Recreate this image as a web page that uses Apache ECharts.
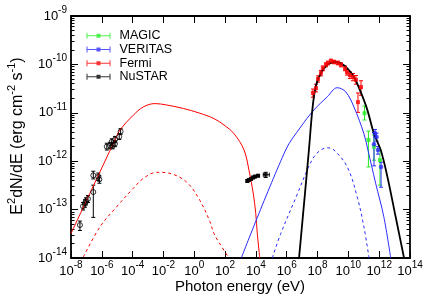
<!DOCTYPE html>
<html><head><meta charset="utf-8">
<script src="https://cdn.jsdelivr.net/npm/echarts@6/dist/echarts.min.js"></script>
<style>html,body{margin:0;padding:0;background:#fff}#c{width:428px;height:300px}</style>
</head><body><div id="c"></div>
<script>
// ---------- data (E in eV, E^2 dN/dE in erg cm^-2 s^-1) ----------
const fermiE  = [5.0e7, 7.9e7, 1.07e8, 1.66e8, 2.2e8, 3.5e8, 4.8e8, 7.4e8, 1.17e9, 2.1e9, 3.3e9, 6.0e9, 8.1e9, 1.26e10, 2.0e10, 3.1e10, 4.2e10, 6.6e10];
const fermiF  = [2.57e-11, 3.24e-11, 5.0e-11, 6.6e-11, 8.3e-11, 9.8e-11, 1.07e-10, 1.17e-10, 1.12e-10, 1.07e-10, 9.8e-11, 8.3e-11, 6.9e-11, 6.0e-11, 5.5e-11, 4.8e-11, 1.66e-11, 3.4e-11];
const fermiLo = [2.1e-11, 2.7e-11, 4.3e-11, 5.8e-11, 7.4e-11, 8.9e-11, 9.8e-11, 1.07e-10, 1.03e-10, 9.8e-11, 8.9e-11, 7.4e-11, 6.0e-11, 5.1e-11, 4.6e-11, 3.9e-11, 1.02e-11, 2.3e-11];
const fermiHi = [3.1e-11, 3.9e-11, 5.8e-11, 7.5e-11, 9.3e-11, 1.08e-10, 1.17e-10, 1.28e-10, 1.22e-10, 1.17e-10, 1.08e-10, 9.3e-11, 7.9e-11, 7.0e-11, 6.5e-11, 5.9e-11, 2.57e-11, 4.6e-11];

const magicE  = [1.12e11, 2.0e11, 4.6e11, 1.12e12];
const magicF  = [9.8e-12, 2.75e-12, 2.0e-12, 1.05e-12];
const magicLo = [7.1e-12, 7.6e-13, 1.05e-12, 3.2e-13];
const magicHi = [1.38e-11, 4.2e-12, 3.5e-12, 1.7e-12];

const veritasE  = [5.4e11, 6.8e11, 4.6e11, 8.3e11, 1.32e12];
const veritasF  = [3.8e-12, 3.16e-12, 2.24e-12, 1.7e-12, 7.6e-13];
const veritasLo = [3.2e-12, 2.6e-12, 8.0e-13, 1.4e-12, 2.9e-13];
const veritasHi = [4.5e-12, 3.8e-12, 3.9e-12, 2.0e-12, 9.5e-13];

const nustarE   = [2.75e3, 3.5e3, 4.8e3, 6.5e3, 8.7e3, 1.38e4, 4.3e4];
const nustarF   = [3.9e-13, 4.1e-13, 4.3e-13, 4.6e-13, 4.8e-13, 5.0e-13, 5.25e-13];
const nustarLo  = [3.7e-13, 3.9e-13, 4.1e-13, 4.4e-13, 4.6e-13, 4.8e-13, 4.6e-13];
const nustarHi  = [4.1e-13, 4.3e-13, 4.5e-13, 4.8e-13, 5.0e-13, 5.2e-13, 5.9e-13];
const nustarElo = [2.5e3, 3.2e3, 4.3e3, 5.8e3, 7.7e3, 1.2e4, 3.0e4];
const nustarEhi = [3.0e3, 3.9e3, 5.4e3, 7.3e3, 9.8e3, 1.6e4, 7.4e4];

const optE  = [3.8e-8, 6.0e-8, 8.1e-8, 9.3e-8, 1.26e-7, 2.8e-7, 2.8e-7, 5.9e-7, 6.9e-7, 2.1e-6, 3.4e-6, 4.4e-6, 5.1e-6, 7.2e-6, 7.2e-6, 1.35e-5, 1.66e-5];
const optF  = [4.8e-14, 1.17e-13, 1.35e-13, 1.48e-13, 1.66e-13, 5.1e-13, 2.3e-13, 4.8e-13, 4.2e-13, 2.0e-12, 2.1e-12, 2.5e-12, 2.1e-12, 2.8e-12, 2.3e-12, 3.2e-12, 4.1e-12];
const optLo = [3.7e-14, 0.98e-13, 1.12e-13, 1.25e-13, 1.4e-13, 4.3e-13, 6.9e-14, 4.0e-13, 3.5e-13, 1.7e-12, 1.8e-12, 2.1e-12, 1.8e-12, 2.4e-12, 2.0e-12, 2.8e-12, 3.6e-12];
const optHi = [5.8e-14, 1.4e-13, 1.6e-13, 1.75e-13, 1.95e-13, 6.2e-13, 3.2e-13, 5.7e-13, 5.0e-13, 2.35e-12, 2.45e-12, 2.9e-12, 2.45e-12, 3.25e-12, 2.65e-12, 3.7e-12, 4.7e-12];

// model curves
const synE = [1e-8, 2.7e-7, 7.2e-6, 1.5e-5, 1.1e-4, 4.9e-4, 2.8e-3, 1.6e-2, 0.195, 2.3, 19, 85, 380, 1700, 3550, 6800, 9800, 1.23e4, 1.78e4];
const synF = [3.2e-14, 3.0e-13, 2.75e-12, 4.4e-12, 8.9e-12, 1.32e-11, 1.55e-11, 1.45e-11, 1.23e-11, 9.8e-12, 7.6e-12, 5.6e-12, 3.7e-12, 1.7e-12, 6.5e-13, 2.1e-13, 8.3e-14, 3.2e-14, 1.0e-14];
const syn2E = [6.3e-8, 7.6e-7, 9.3e-6, 1.1e-4, 4.9e-4, 3.6e-3, 2.6e-2, 0.32, 2.3, 10.5, 19, 40, 178];
const syn2F = [1.05e-14, 4.4e-14, 1.15e-13, 2.75e-13, 4.4e-13, 5.9e-13, 5.6e-13, 3.7e-13, 1.55e-13, 5.6e-14, 3.2e-14, 2.1e-14, 1.0e-14];
const icE  = [1.12e3, 8.5e5, 8.1e6, 5.9e7, 4.3e8, 1.9e9, 6.8e9, 2.3e10, 1.02e11, 1.86e11, 5.9e11, 2.0e12, 5.6e12];
const icF  = [1.0e-14, 1.7e-12, 5.1e-12, 1.15e-11, 2.14e-11, 3.3e-11, 2.7e-11, 1.32e-11, 3.7e-12, 1.7e-12, 3.5e-13, 7.1e-14, 1.0e-14];
const ic2E = [1.15e5, 4.1e5, 4.9e6, 2.1e7, 5.9e7, 1.6e8, 4.3e8, 1.17e9, 8.5e9, 3.8e10, 1.02e11, 2.2e11];
const ic2F = [1.0e-14, 3.2e-14, 2.1e-13, 6.5e-13, 1.23e-12, 1.7e-12, 1.9e-12, 1.7e-12, 7.6e-13, 1.8e-13, 4.4e-14, 1.0e-14];
const totE = [6.3e6, 2.75e7, 4.6e7, 7.6e7, 1.6e8, 4.3e8, 1.17e9, 3.2e9, 8.5e9, 2.3e10, 6.3e10, 1.7e11, 4.6e11, 1.26e12, 3.4e12, 1.17e13, 4.1e13];
const totF = [1.0e-14, 1.7e-12, 1.15e-11, 3.5e-11, 6.5e-11, 9.8e-11, 1.12e-10, 1.05e-10, 8.3e-11, 5.5e-11, 2.7e-11, 1.15e-11, 3.7e-12, 1.7e-12, 4.8e-13, 7.1e-14, 1.0e-14];

// axis ranges (decades)
const xMinExp = -8, xMaxExp = 14, xStep = 2;
const yMinExp = -14, yMaxExp = -9;

// ---------- build ----------
const L = Math.log10;
const pts = (E, F) => E.map((e, i) => [L(e), L(F[i])]);
const errRows = (E, F, lo, hi, elo, ehi) => E.map((e, i) => [L(e), L(F[i]), L(lo[i]), L(hi[i]),
  elo ? L(elo[i]) : L(e), ehi ? L(ehi[i]) : L(e)]);

const FONT = 'Liberation Sans, Arial, sans-serif';
const green = '#22ee22', blue = '#2a2aff', red = '#ff0000';

function errSeries(name, rows, color, cap) {
  return {
    type: 'custom', name, z: 3, clip: true,
    encode: { x: 0, y: 1 },
    data: rows,
    renderItem(params, api) {
      const x = api.value(0), st = { stroke: color, lineWidth: 1, fill: null };
      const ch = [];
      const a = api.coord([x, api.value(2)]), b = api.coord([x, api.value(3)]);
      ch.push({ type: 'line', shape: { x1: a[0], y1: a[1], x2: b[0], y2: b[1] }, style: st });
      ch.push({ type: 'line', shape: { x1: a[0] - cap, y1: a[1], x2: a[0] + cap, y2: a[1] }, style: st });
      ch.push({ type: 'line', shape: { x1: b[0] - cap, y1: b[1], x2: b[0] + cap, y2: b[1] }, style: st });
      const xl = api.value(4), xh = api.value(5);
      if (xl !== x || xh !== x) {
        const y = api.value(1);
        const c = api.coord([xl, y]), d = api.coord([xh, y]);
        ch.push({ type: 'line', shape: { x1: c[0], y1: c[1], x2: d[0], y2: d[1] }, style: st });
        ch.push({ type: 'line', shape: { x1: c[0], y1: c[1] - cap, x2: c[0], y2: c[1] + cap }, style: st });
        ch.push({ type: 'line', shape: { x1: d[0], y1: d[1] - cap, x2: d[0], y2: d[1] + cap }, style: st });
      }
      return { type: 'group', children: ch };
    }
  };
}

function curve(name, E, F, color, width, dashed) {
  return {
    type: 'line', name, data: pts(E, F), showSymbol: false, symbol: 'none',
    smooth: 0.35, z: 4, clip: true,
    lineStyle: { color, width, type: dashed ? [3, 3] : 'solid' }
  };
}

const minorY = [];
for (let n = yMinExp; n < yMaxExp; n++) for (let k = 2; k <= 9; k++) minorY.push(n + L(k));

const labRich = {
  b: { fontSize: 13, lineHeight: 22, fontFamily: FONT, color: '#000' },
  s: { fontSize: 10, lineHeight: 8, verticalAlign: 'top', fontFamily: FONT, color: '#000' }
};
const fmt = v => '{b|10}{s|' + v + '}';

const AXW = 1.8;
const baseX = { type: 'value', min: xMinExp, max: xMaxExp, interval: xStep, splitLine: { show: false },
  axisLine: { onZero: false, lineStyle: { color: '#000', width: AXW } } };
const baseY = { type: 'value', min: yMinExp, max: yMaxExp, interval: 1, splitLine: { show: false },
  axisLine: { onZero: false, lineStyle: { color: '#000', width: AXW } } };
const hiddenLine = { show: false, onZero: false };

const iconPath = 'path://M0,3.5L24,3.5L24,4.5L0,4.5Z M0,1L1,1L1,7L0,7Z M23,1L24,1L24,7L23,7Z M10,2L14,2L14,6L10,6Z';

const option = {
  animation: false,
  backgroundColor: '#fff',
  grid: { left: 71, right: 18, top: 16, bottom: 42 },
  xAxis: [
    Object.assign({}, baseX, { position: 'bottom',
      axisTick: { inside: true, length: 7, lineStyle: { color: '#000' } },
      axisLabel: { formatter: fmt, rich: labRich, margin: 2 } }),
    Object.assign({}, baseX, { position: 'top',
      axisTick: { inside: true, length: 7, lineStyle: { color: '#000' } },
      axisLabel: { show: false } })
  ],
  yAxis: [
    Object.assign({}, baseY, { position: 'left',
      axisTick: { inside: true, length: 7, lineStyle: { color: '#000' } },
      axisLabel: { formatter: fmt, rich: labRich, margin: 4 } }),
    Object.assign({}, baseY, { position: 'left', axisLine: hiddenLine,
      axisTick: { inside: true, length: 3.5, customValues: minorY, lineStyle: { color: '#000' } },
      axisLabel: { show: false } }),
    Object.assign({}, baseY, { position: 'right',
      axisTick: { inside: true, length: 7, lineStyle: { color: '#000' } },
      axisLabel: { show: false } }),
    Object.assign({}, baseY, { position: 'right', axisLine: hiddenLine,
      axisTick: { inside: true, length: 3.5, customValues: minorY, lineStyle: { color: '#000' } },
      axisLabel: { show: false } })
  ],
  legend: {
    orient: 'vertical', left: 86.5, top: 29, itemGap: 0, padding: 0,
    itemWidth: 24, itemHeight: 7,
    textStyle: { fontSize: 12.5, fontFamily: FONT, color: '#000', lineHeight: 13.67, padding: [0, 0, 0, 4] },
    data: [
      { name: 'MAGIC', icon: iconPath },
      { name: 'VERITAS', icon: iconPath },
      { name: 'Fermi', icon: iconPath },
      { name: 'NuSTAR', icon: iconPath }
    ]
  },
  graphic: [
    { type: 'text', x: 240, y: 287, z: 10,
      style: { text: 'Photon energy (eV)', font: '15px ' + FONT, fill: '#000', align: 'center', verticalAlign: 'middle', textAlign: 'center', textVerticalAlign: 'middle' } },
    { type: 'text', x: 18, y: 136, rotation: Math.PI / 2, z: 10,
      style: { text: 'E{s|2}dN/dE (erg cm{s|-2} s{s|-1})', font: '16px ' + FONT, fill: '#000', lineHeight: 24,
        align: 'center', verticalAlign: 'middle', textAlign: 'center', textVerticalAlign: 'middle',
        rich: { s: { fontSize: 11, lineHeight: 11, verticalAlign: 'top', fontFamily: FONT, fill: '#000', color: '#000' } } } }
  ],
  series: [
    curve('syn', synE, synF, red, 1, false),
    curve('syn2', syn2E, syn2F, red, 1, true),
    curve('ic', icE, icF, blue, 1, false),
    curve('ic2', ic2E, ic2F, blue, 1, true),
    curve('total', totE, totF, '#000', 1.8, false),
    errSeries('optErr', errRows(optE, optF, optLo, optHi), '#000', 2),
    { type: 'scatter', name: 'Optical', data: pts(optE, optF), symbol: 'circle', symbolSize: 5, z: 5,
      itemStyle: { color: 'rgba(255,255,255,0)', borderColor: '#000', borderWidth: 1 } },
    errSeries('nuErr', errRows(nustarE, nustarF, nustarLo, nustarHi, nustarElo, nustarEhi), '#000', 2),
    { type: 'scatter', name: 'NuSTAR', data: pts(nustarE, nustarF), symbol: 'rect', symbolSize: 4, z: 5, itemStyle: { color: '#000' } },
    errSeries('fermiErr', errRows(fermiE, fermiF, fermiLo, fermiHi), red, 2),
    { type: 'scatter', name: 'Fermi', data: pts(fermiE, fermiF), symbol: 'rect', symbolSize: 4, z: 5, itemStyle: { color: red } },
    errSeries('magicErr', errRows(magicE, magicF, magicLo, magicHi), green, 2),
    { type: 'scatter', name: 'MAGIC', data: pts(magicE, magicF), symbol: 'rect', symbolSize: 4, z: 5, itemStyle: { color: green } },
    errSeries('veritasErr', errRows(veritasE, veritasF, veritasLo, veritasHi), blue, 2),
    { type: 'scatter', name: 'VERITAS', data: pts(veritasE, veritasF), symbol: 'circle', symbolSize: 4.5, z: 5, itemStyle: { color: blue } }
  ]
};

const chart = echarts.init(document.getElementById('c'), null, { renderer: 'canvas' });
chart.setOption(option);
</script></body></html>
